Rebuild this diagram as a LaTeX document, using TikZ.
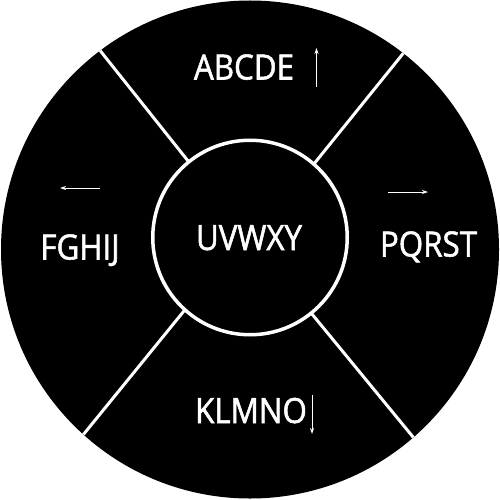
\documentclass[tikz,border=0pt]{standalone}
\usepackage{fontspec}
\setmainfont{Open Sans}[FakeStretch=0.9,FakeBold=1.5]
\usetikzlibrary{arrows.meta}
\begin{document}
\begin{tikzpicture}[x=1pt,y=-1pt,
  ring/.style={circle,outer sep=0pt,inner sep=0pt},
  divider/.style={white,line width=3pt},
  lab/.style={text=white,font=\fontsize{34.8}{40}\selectfont,anchor=base,inner sep=0pt},
  dirarrow/.style={white,line width=0.9pt,-{Stealth[length=6pt,width=4pt]}}]
\useasboundingbox (0,0) rectangle (500,500);
\node[ring,fill=black,minimum size=498pt] (outer) at (250,249.5) {};
\node[ring,draw=white,line width=3.5pt,minimum size=194.5pt] (inner) at (250,237.5) {};
\draw[divider] (inner.129) -- (outer.127.4);
\draw[divider] (inner.49.3) -- (outer.52.8);
\draw[divider] (inner.228.4) -- (outer.228.65);
\draw[divider] (inner.-51.6) -- (outer.-49);
\node[lab] (top) at (244,79.5) {ABCDE};
\node[lab] (left) at (80,259.5) {FGHIJ};
\node[lab] (right) at (428.5,256.5) {PQRST};
\node[lab] (bottom) at (251,423) {KLMNO};
\node[lab] (center) at (249,250) {UVWXY};
\coordinate (ua) at (316.5,87);
\coordinate (ub) at (316.5,48);
\coordinate (da) at (312,395);
\coordinate (db) at (312,434);
\coordinate (la) at (100,188);
\coordinate (lb) at (60,188);
\coordinate (ra) at (388,192);
\coordinate (rb) at (428,192);
\draw[dirarrow] (ua) -- (ub);
\draw[dirarrow] (da) -- (db);
\draw[dirarrow] (la) -- (lb);
\draw[dirarrow] (ra) -- (rb);
\end{tikzpicture}
\end{document}
